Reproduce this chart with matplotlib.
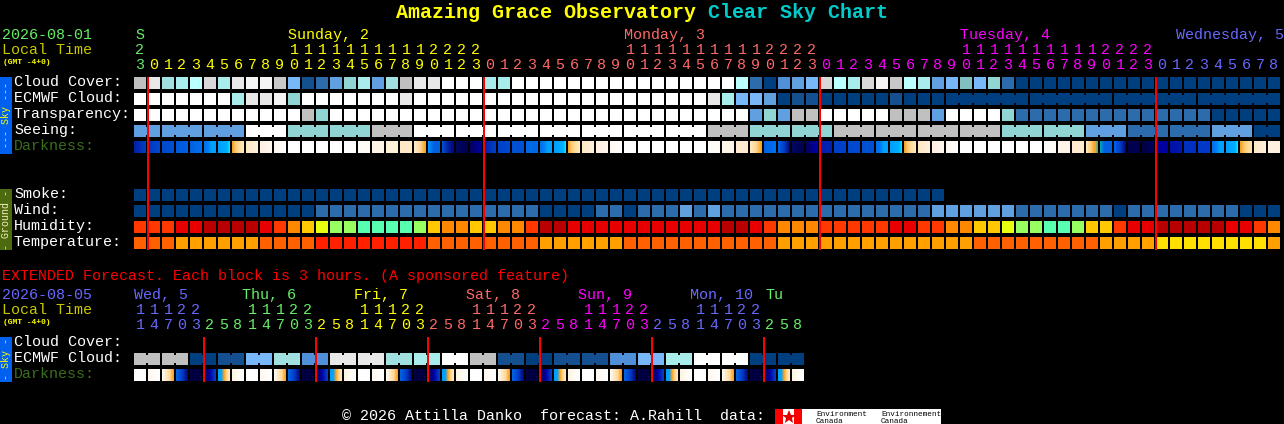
import numpy as np
import matplotlib
matplotlib.use("Agg")
import matplotlib.pyplot as plt
from matplotlib.colors import to_rgb
from matplotlib.patches import Rectangle

MONO = "Liberation Mono"

# one letter per block, colours in the palettes below
sky_palette = {"d": "#003f7f", "e": "#145090", "f": "#2c6cac", "m": "#5090d8", "g": "#60a0e0",
               "h": "#78b8f8", "t": "#80c0c0", "i": "#90d4d4", "j": "#a0e0e0", "k": "#a8ecec",
               "l": "#bcffff", "s": "#c0c0c0", "c": "#c8c8c8", "u": "#d8d8d8", "v": "#e8e8e8",
               "x": "#f4f4f4", "w": "#ffffff"}
humidity_palette = {"a": "#b80000", "b": "#e80000", "o": "#ff3800", "p": "#ff8800", "q": "#ffc800",
                    "r": "#e8ff10", "y": "#98ff60", "z": "#58ffb0"}
temp_palette = {"A": "#ff2000", "B": "#ff6000", "C": "#ffa000", "D": "#ffe000"}

cloud_cover = "svjklukvxxchefgikgjsvv" + "www" + "kk" + "w" * 16 + "lfdmghulkuxclkghthif" + "d" * 19
ecmwf_cloud = "w" * 7 + "kvvxi" + "w" * 7 + "vw" + "w" * 20 + "vkhhgdeeddddde" + "d" * 27
transparency = "w" * 12 + "si" + "w" * 30 + "gigss" + "w" * 5 + "sssg" + "w" * 4 + "i" + "f" * 14 + "d" * 5
seeing = "g" * 8 + "www" + "i" * 6 + "sss" + "w" * 21 + "sss" + "i" * 6 + "s" * 12 + "i" * 6 + "ggg" + "f" * 6 + "ggg" + "dd"
smoke = "d" * 58
wind = ("d" * 13 + "f" * 16 + "d" * 4 + "ff" + "d" + "fff" + "gfg" + "f" * 15 + "g" * 6 + "f" * 7 + "d"
        + "f" * 8 + "ddd")
humidity = "ooobbaaaabopqryyzzzzyqppqqppoaa" + "b" * 11 + "aabopppooooobboopp" + "qqryyzzyqqobb" + "a" * 5 + "bbop"
temperature = "BBB" + "C" * 6 + "B" * 4 + "A" * 8 + "B" * 8 + "C" * 6 + "B" * 11 + "C" * 14 + "B" * 9 + "C" * 4 + "D" * 8 + "C"

# colour stops inside each darkness block
dusk_end = "00a0ff 00a0ff 00a8ff 00a8ff 00b0ff 00e8ff"
dusk_start = "f8a020 ffc870 ffd890 ffe0a8 ffe8c0"
darkness = [
    "0020a8 0040c0", "0038c0 0048cc", "0048cc 0050d4", "0058dc 0060e0", "0060e0 0070ec", "0070ec 0080f0 00a0ff 00a0ff",
    dusk_end, dusk_start, "ffe8c8 fff0d8", "fff0e0 fff8f0", "fff8f0 ffffff",
    "ffffff", "ffffff", "ffffff", "ffffff", "ffffff",
    "fffcf8", "fff4e8", "fff0d8", "ffe8c8", "ffe8c8 ffd8a0 f8a020",
    "0090ff 0060e0 0060e0", "0050d0 0020a0 000880", "000860 000050", "000060 0000a0", "0020b0 0040c0", "0040c8 0048d0",
    "0050d4", "0068e4", "0070ec 0080f0 00a0ff 00a0ff", dusk_end, dusk_start, "ffe8c8 fff0d8",
    "fff0e0 fff8f0", "fff8f0 ffffff",
    "ffffff", "ffffff", "ffffff", "ffffff", "ffffff", "ffffff",
    "fffcf8", "fff4e8", "ffecd0", "ffe8c0 ffd890 f8a020",
    "0060e0 0070f0", "0060e8 0040c8 000880", "000860 000050", "000060 0000a8", "0020b0", "0040c8", "0048d0",
    "0050d4", "0070ec 0078f0 00a0ff 00a0ff", dusk_end, dusk_start, "ffe8c8 fff0d8",
    "fff0e0 fff8f0", "fff8f0 ffffff",
    "ffffff", "ffffff", "ffffff", "ffffff", "ffffff", "ffffff",
    "fffcf8", "fff4e8", "ffecd0", "ffe8c0 ffd890 ffd080 f8b040 f0a830 40b0a0",
    "00a0c0 0060e0 0060e0 0060e0", "0060e8 0040c8 000880", "000050", "000040 000060", "0000a0", "0010a8 0018b0", "0030c0",
    "0038c8", "0070ec 0080f0 00a0ff 00a0ff", dusk_end, "f8a020 ffc870 ffd890 ffe0b0", "ffe8c8 fff0d8", "fff0e0",
]

# extended rows: ecmwf is one letter per 6 hour pair
ecmwf_ext = "ssdehjmvvjkwsedeemhkwwdd"
darkness_ext_night = ["ffffff", "fff8f0 ffffff", "fff8f0 ffe8c8 ffd890 f8a020", "0060e0 0040c8 000880", "000040",
                      "000060 0000a0 0040c8", "00a0ff 00a0ff f8a020 ffd890 ffe8c0", "fff4e4 ffffff"]
darkness_ext = darkness_ext_night * 6

day_names = ["S", "Sunday, 2", "Monday, 3", "Tuesday, 4", "Wednesday, 5"]
day_colors = ["#66ee66", "#ffff00", "#ff6868", "#ff00ff", "#6868ff"]
hours = [23] + list(range(24)) * 3 + list(range(9))
hour_days = [0] + [1] * 24 + [2] * 24 + [3] * 24 + [4] * 9

ext_names = ["Wed, 5", "Thu, 6", "Fri, 7", "Sat, 8", "Sun, 9", "Mon, 10", "Tu"]
ext_colors = ["#6868ff", "#66ee66", "#ffff00", "#ff6868", "#ff00ff", "#6868ff", "#66ee66"]
ext_hours = [11, 14, 17, 20, 23] + [2, 5, 8, 11, 14, 17, 20, 23] * 5 + [2, 5, 8]
ext_days = [0] * 5 + [1] * 8 + [2] * 8 + [3] * 8 + [4] * 8 + [5] * 8 + [6] * 3

X0 = 134
PITCH = 14
SIZE = 12


def px(size):
    return size * 72 / 100


fig = plt.figure(figsize=(12.84, 4.24), dpi=100, facecolor="black")
ax = fig.add_axes([0, 0, 1, 1])
ax.set_facecolor("black")
ax.axis("off")


def label(x, y, s, color="white", size=15, **kw):
    kw.setdefault("family", MONO)
    ax.text(x, y - 1, s, color=color, fontsize=px(size), va=kw.pop("va", "baseline"), ha=kw.pop("ha", "left"), **kw)


def rect(x, y, w, h, color, z=2):
    ax.add_patch(Rectangle((x, y), w, h, facecolor=color, edgecolor="none", zorder=z))


def block_row(y, codes, palette, joined=None):
    for i, code in enumerate(codes):
        x = X0 + i * PITCH
        rect(x, y, SIZE, SIZE, palette[code])
        if joined is not None and i + 1 < len(codes) and joined(i):
            rect(x + SIZE, y + 2, PITCH - SIZE, SIZE - 4, palette[code])


def gradient_row(y, cells):
    for i, stops in enumerate(cells):
        x = X0 + i * PITCH
        cols = np.array([to_rgb("#" + c) for c in stops.split()])
        if len(cols) == 1:
            cols = np.vstack([cols, cols])
        pos = np.linspace(0, 1, len(cols))
        t = np.linspace(0, 1, SIZE)
        img = np.stack([np.interp(t, pos, cols[:, k]) for k in range(3)], axis=1)[None, :, :]
        ax.imshow(img, extent=[x, x + SIZE, y + SIZE, y], aspect="auto", interpolation="nearest", zorder=2)


# title
label(396, 19, "Amazing Grace Observatory", "#ffff00", 20, fontweight="bold")
label(708, 19, "Clear Sky Chart", "#00cccc", 20, fontweight="bold")

# main header
label(2, 40, "2026-08-01", "#66ee66")
label(2, 55, "Local Time", "#c8c800")
label(3, 65, "(GMT -4+0)", "#ffff00", 8, fontweight="bold")
label(X0 + 6, 40, day_names[0], day_colors[0], ha="center")
label(288, 40, day_names[1], day_colors[1])
label(624, 40, day_names[2], day_colors[2])
label(960, 40, day_names[3], day_colors[3])
label(1284, 40, day_names[4], day_colors[4], ha="right")
for i, (h, d) in enumerate(zip(hours, hour_days)):
    xc = X0 + i * PITCH + SIZE / 2
    if h >= 10:
        label(xc, 55, str(h // 10), day_colors[d], ha="center")
    label(xc, 70, str(h % 10), day_colors[d], ha="center")

# main sky rows
for y, name, color in [(87, "Cloud Cover:", "white"), (103, "ECMWF Cloud:", "white"), (119, "Transparency:", "white"),
                       (135, "Seeing:", "white"), (151, "Darkness:", "#3a6e1a"), (199, "Smoke:", "white"),
                       (215, "Wind:", "white"), (231, "Humidity:", "white"), (247, "Temperature:", "white")]:
    label(14, y, name, color)

block_row(77, cloud_cover, sky_palette)
block_row(93, ecmwf_cloud, sky_palette, joined=lambda i: i >= 58 and (i - 58) % 6 != 5)
block_row(109, transparency, sky_palette)
block_row(125, seeing, sky_palette, joined=lambda i: i % 3 != 1)
gradient_row(141, darkness)
block_row(189, smoke, sky_palette)
block_row(205, wind, sky_palette)
block_row(221, humidity, humidity_palette)
block_row(237, temperature, temp_palette)

for x in (147, 483, 819, 1155):
    rect(x, 77, 2, 173, "#ff0000", z=3)

# side bars
rect(0, 77, 12, 77, "#0060f0")
label(6, 116.5, "--- Sky ---", "#ffff00", 10, rotation=90, ha="center", va="center")
rect(0, 189, 12, 61, "#4e6a0e")
label(6, 220.5, "- Ground -", "#f0f0c0", 10, rotation=90, ha="center", va="center")
rect(0, 337, 12, 45, "#0060f0")
label(6, 360.5, "- Sky -", "#ffff00", 10, rotation=90, ha="center", va="center")

# extended forecast
label(2, 281, "EXTENDED Forecast. Each block is 3 hours. (A sponsored feature)", "#ff0000")
label(2, 300, "2026-08-05", "#6868ff")
label(2, 315, "Local Time", "#c8c800")
label(3, 325, "(GMT -4+0)", "#ffff00", 8, fontweight="bold")
for k, (name, col) in enumerate(zip(ext_names, ext_colors)):
    x = X0 if k == 0 else 242 + 112 * (k - 1)
    if name == "Tu":
        x = 765
    label(x, 300, name, col)
for i, (h, d) in enumerate(zip(ext_hours, ext_days)):
    xc = X0 + i * PITCH + SIZE / 2
    if h >= 10:
        label(xc, 315, str(h // 10), ext_colors[d], ha="center")
    label(xc, 330, str(h % 10), ext_colors[d], ha="center")

label(14, 347, "Cloud Cover:")
label(14, 363, "ECMWF Cloud:")
label(14, 379, "Darkness:", "#3a6e1a")
block_row(353, [c for c in ecmwf_ext for _ in range(2)], sky_palette, joined=lambda i: i % 2 == 0)
gradient_row(369, darkness_ext)
for x in (203, 315, 427, 539, 651, 763):
    rect(x, 337, 2, 45, "#ff0000", z=3)

# footer
label(342, 421, "\u00a9 2026 Attilla Danko  forecast: A.Rahill  data:")
rect(775, 409, 166, 15, "white")
rect(775, 409, 8, 15, "#ff0000", z=3)
rect(794, 409, 8, 15, "#ff0000", z=3)
ax.plot([788.5], [416.5], marker="*", color="#e00000", markersize=10, markeredgewidth=0, zorder=3)
label(816, 416.5, "Environment", "black", 7.7, zorder=3)
label(816, 424, "Canada", "black", 7.7, zorder=3)
label(881, 416.5, "Environnement", "black", 7.7, zorder=3)
label(881, 424, "Canada", "black", 7.7, zorder=3)

ax.set_xlim(0, 1284)
ax.set_ylim(424, 0)
fig.savefig("out.png", dpi=100, facecolor="black")
